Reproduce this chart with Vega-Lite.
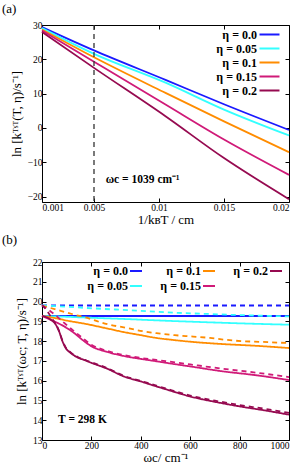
{
  "$schema": "https://vega.github.io/schema/vega-lite/v6.json",
  "padding": {"left": 1, "top": 2, "right": 4, "bottom": 2},
  "spacing": 6,
  "config": {
    "view": {"stroke": "black", "strokeWidth": 1},
    "font": "Liberation Serif",
    "axis": {
      "domain": false, "grid": false, "tickColor": "black", "tickSize": -4, "labelPadding": 4,
      "labelFont": "Liberation Serif", "labelFontSize": 9.5, "labelColor": "black",
      "titleFont": "Liberation Serif", "titleFontSize": 13, "titleFontWeight": "normal", "titleColor": "black"
    },
    "legend": {
      "title": null, "symbolType": "M-2,0H2", "symbolDash": [1, 0], "labelFont": "Liberation Serif", "labelFontSize": 12,
      "labelFontWeight": "bold", "labelColor": "black", "labelAlign": "right", "padding": 0
    }
  },
  "datasets": {
    "a": [
      {"x": 0.001, "y": 29.4, "eta": "0.0"}, {"x": 0.005, "y": 22.6, "eta": "0.0"}, {"x": 0.0105, "y": 14.0, "eta": "0.0"}, {"x": 0.015, "y": 6.9, "eta": "0.0"}, {"x": 0.02, "y": -0.6, "eta": "0.0"},
      {"x": 0.001, "y": 29.1, "eta": "0.05"}, {"x": 0.005, "y": 21.6, "eta": "0.05"}, {"x": 0.0105, "y": 13.2, "eta": "0.05"}, {"x": 0.015, "y": 5.35, "eta": "0.05"}, {"x": 0.02, "y": -2.2, "eta": "0.05"},
      {"x": 0.001, "y": 28.7, "eta": "0.1"}, {"x": 0.005, "y": 20.6, "eta": "0.1"}, {"x": 0.0105, "y": 10.2, "eta": "0.1"}, {"x": 0.015, "y": 1.9, "eta": "0.1"}, {"x": 0.02, "y": -7.1, "eta": "0.1"},
      {"x": 0.001, "y": 28.4, "eta": "0.15"}, {"x": 0.005, "y": 19.3, "eta": "0.15"}, {"x": 0.0105, "y": 6.8, "eta": "0.15"}, {"x": 0.015, "y": -3.4, "eta": "0.15"}, {"x": 0.02, "y": -13.7, "eta": "0.15"},
      {"x": 0.001, "y": 28.0, "eta": "0.2"}, {"x": 0.005, "y": 17.5, "eta": "0.2"}, {"x": 0.0105, "y": 3.4, "eta": "0.2"}, {"x": 0.015, "y": -8.8, "eta": "0.2"}, {"x": 0.02, "y": -20.8, "eta": "0.2"}
    ],
    "b": [
      {"w": 0, "y": 19.27, "eta": "0.0", "kind": "solid"}, {"w": 500, "y": 19.27, "eta": "0.0", "kind": "solid"}, {"w": 1000, "y": 19.27, "eta": "0.0", "kind": "solid"},
      {"w": 0, "y": 19.8, "eta": "0.0", "kind": "dashed"}, {"w": 500, "y": 19.8, "eta": "0.0", "kind": "dashed"}, {"w": 1000, "y": 19.8, "eta": "0.0", "kind": "dashed"},
      {"w": 0, "y": 19.27, "eta": "0.05", "kind": "solid"}, {"w": 100, "y": 19.23, "eta": "0.05", "kind": "solid"}, {"w": 200, "y": 19.18, "eta": "0.05", "kind": "solid"}, {"w": 330, "y": 19.12, "eta": "0.05", "kind": "solid"}, {"w": 500, "y": 19.03, "eta": "0.05", "kind": "solid"}, {"w": 700, "y": 18.94, "eta": "0.05", "kind": "solid"}, {"w": 850, "y": 18.88, "eta": "0.05", "kind": "solid"}, {"w": 1000, "y": 18.83, "eta": "0.05", "kind": "solid"},
      {"w": 0, "y": 19.8, "eta": "0.05", "kind": "dashed"}, {"w": 100, "y": 19.74, "eta": "0.05", "kind": "dashed"}, {"w": 175, "y": 19.68, "eta": "0.05", "kind": "dashed"}, {"w": 355, "y": 19.56, "eta": "0.05", "kind": "dashed"}, {"w": 550, "y": 19.43, "eta": "0.05", "kind": "dashed"}, {"w": 680, "y": 19.37, "eta": "0.05", "kind": "dashed"}, {"w": 815, "y": 19.31, "eta": "0.05", "kind": "dashed"}, {"w": 1000, "y": 19.25, "eta": "0.05", "kind": "dashed"},
      {"w": 0, "y": 19.27, "eta": "0.1", "kind": "solid"}, {"w": 50, "y": 19.17, "eta": "0.1", "kind": "solid"}, {"w": 100, "y": 19.04, "eta": "0.1", "kind": "solid"}, {"w": 177, "y": 18.87, "eta": "0.1", "kind": "solid"}, {"w": 260, "y": 18.65, "eta": "0.1", "kind": "solid"}, {"w": 330, "y": 18.46, "eta": "0.1", "kind": "solid"}, {"w": 400, "y": 18.3, "eta": "0.1", "kind": "solid"}, {"w": 463, "y": 18.16, "eta": "0.1", "kind": "solid"}, {"w": 530, "y": 18.06, "eta": "0.1", "kind": "solid"}, {"w": 600, "y": 17.97, "eta": "0.1", "kind": "solid"}, {"w": 733, "y": 17.85, "eta": "0.1", "kind": "solid"}, {"w": 870, "y": 17.76, "eta": "0.1", "kind": "solid"}, {"w": 1000, "y": 17.65, "eta": "0.1", "kind": "solid"},
      {"w": 0, "y": 19.8, "eta": "0.1", "kind": "dashed"}, {"w": 56, "y": 19.6, "eta": "0.1", "kind": "dashed"}, {"w": 130, "y": 19.34, "eta": "0.1", "kind": "dashed"}, {"w": 184, "y": 19.17, "eta": "0.1", "kind": "dashed"}, {"w": 245, "y": 18.92, "eta": "0.1", "kind": "dashed"}, {"w": 340, "y": 18.67, "eta": "0.1", "kind": "dashed"}, {"w": 409, "y": 18.5, "eta": "0.1", "kind": "dashed"}, {"w": 463, "y": 18.4, "eta": "0.1", "kind": "dashed"}, {"w": 537, "y": 18.3, "eta": "0.1", "kind": "dashed"}, {"w": 612, "y": 18.23, "eta": "0.1", "kind": "dashed"}, {"w": 680, "y": 18.16, "eta": "0.1", "kind": "dashed"}, {"w": 741, "y": 18.07, "eta": "0.1", "kind": "dashed"}, {"w": 808, "y": 18.0, "eta": "0.1", "kind": "dashed"}, {"w": 889, "y": 17.96, "eta": "0.1", "kind": "dashed"}, {"w": 1000, "y": 17.9, "eta": "0.1", "kind": "dashed"},
      {"w": 0, "y": 19.27, "eta": "0.15", "kind": "solid"}, {"w": 49, "y": 19.0, "eta": "0.15", "kind": "solid"}, {"w": 89, "y": 18.75, "eta": "0.15", "kind": "solid"}, {"w": 130, "y": 18.41, "eta": "0.15", "kind": "solid"}, {"w": 170, "y": 18.0, "eta": "0.15", "kind": "solid"}, {"w": 200, "y": 17.74, "eta": "0.15", "kind": "solid"}, {"w": 265, "y": 17.45, "eta": "0.15", "kind": "solid"}, {"w": 330, "y": 17.25, "eta": "0.15", "kind": "solid"}, {"w": 400, "y": 17.1, "eta": "0.15", "kind": "solid"}, {"w": 463, "y": 16.98, "eta": "0.15", "kind": "solid"}, {"w": 530, "y": 16.85, "eta": "0.15", "kind": "solid"}, {"w": 600, "y": 16.72, "eta": "0.15", "kind": "solid"}, {"w": 733, "y": 16.47, "eta": "0.15", "kind": "solid"}, {"w": 870, "y": 16.27, "eta": "0.15", "kind": "solid"}, {"w": 1000, "y": 16.03, "eta": "0.15", "kind": "solid"},
      {"w": 0, "y": 19.8, "eta": "0.15", "kind": "dashed"}, {"w": 30, "y": 19.55, "eta": "0.15", "kind": "dashed"}, {"w": 60, "y": 19.25, "eta": "0.15", "kind": "dashed"}, {"w": 90, "y": 18.92, "eta": "0.15", "kind": "dashed"}, {"w": 120, "y": 18.6, "eta": "0.15", "kind": "dashed"}, {"w": 150, "y": 18.3, "eta": "0.15", "kind": "dashed"}, {"w": 200, "y": 17.82, "eta": "0.15", "kind": "dashed"}, {"w": 265, "y": 17.5, "eta": "0.15", "kind": "dashed"}, {"w": 330, "y": 17.3, "eta": "0.15", "kind": "dashed"}, {"w": 400, "y": 17.15, "eta": "0.15", "kind": "dashed"}, {"w": 500, "y": 16.99, "eta": "0.15", "kind": "dashed"}, {"w": 600, "y": 16.82, "eta": "0.15", "kind": "dashed"}, {"w": 733, "y": 16.6, "eta": "0.15", "kind": "dashed"}, {"w": 870, "y": 16.4, "eta": "0.15", "kind": "dashed"}, {"w": 1000, "y": 16.18, "eta": "0.15", "kind": "dashed"},
      {"w": 0, "y": 19.27, "eta": "0.2", "kind": "solid"}, {"w": 35, "y": 19.09, "eta": "0.2", "kind": "solid"}, {"w": 56, "y": 18.83, "eta": "0.2", "kind": "solid"}, {"w": 69, "y": 18.5, "eta": "0.2", "kind": "solid"}, {"w": 83, "y": 17.99, "eta": "0.2", "kind": "solid"}, {"w": 96, "y": 17.65, "eta": "0.2", "kind": "solid"}, {"w": 116, "y": 17.4, "eta": "0.2", "kind": "solid"}, {"w": 143, "y": 17.18, "eta": "0.2", "kind": "solid"}, {"w": 170, "y": 17.05, "eta": "0.2", "kind": "solid"}, {"w": 200, "y": 16.9, "eta": "0.2", "kind": "solid"}, {"w": 265, "y": 16.6, "eta": "0.2", "kind": "solid"}, {"w": 330, "y": 16.22, "eta": "0.2", "kind": "solid"}, {"w": 400, "y": 15.96, "eta": "0.2", "kind": "solid"}, {"w": 463, "y": 15.71, "eta": "0.2", "kind": "solid"}, {"w": 500, "y": 15.57, "eta": "0.2", "kind": "solid"}, {"w": 600, "y": 15.2, "eta": "0.2", "kind": "solid"}, {"w": 700, "y": 14.93, "eta": "0.2", "kind": "solid"}, {"w": 800, "y": 14.7, "eta": "0.2", "kind": "solid"}, {"w": 900, "y": 14.5, "eta": "0.2", "kind": "solid"}, {"w": 1000, "y": 14.28, "eta": "0.2", "kind": "solid"},
      {"w": 0, "y": 19.82, "eta": "0.2", "kind": "dashed"}, {"w": 11, "y": 19.68, "eta": "0.2", "kind": "dashed"}, {"w": 25, "y": 19.45, "eta": "0.2", "kind": "dashed"}, {"w": 40, "y": 19.15, "eta": "0.2", "kind": "dashed"}, {"w": 56, "y": 18.85, "eta": "0.2", "kind": "dashed"}, {"w": 69, "y": 18.52, "eta": "0.2", "kind": "dashed"}, {"w": 83, "y": 18.02, "eta": "0.2", "kind": "dashed"}, {"w": 96, "y": 17.68, "eta": "0.2", "kind": "dashed"}, {"w": 116, "y": 17.43, "eta": "0.2", "kind": "dashed"}, {"w": 143, "y": 17.21, "eta": "0.2", "kind": "dashed"}, {"w": 200, "y": 16.93, "eta": "0.2", "kind": "dashed"}, {"w": 265, "y": 16.63, "eta": "0.2", "kind": "dashed"}, {"w": 330, "y": 16.25, "eta": "0.2", "kind": "dashed"}, {"w": 400, "y": 15.99, "eta": "0.2", "kind": "dashed"}, {"w": 500, "y": 15.61, "eta": "0.2", "kind": "dashed"}, {"w": 600, "y": 15.25, "eta": "0.2", "kind": "dashed"}, {"w": 700, "y": 14.99, "eta": "0.2", "kind": "dashed"}, {"w": 800, "y": 14.77, "eta": "0.2", "kind": "dashed"}, {"w": 900, "y": 14.58, "eta": "0.2", "kind": "dashed"}, {"w": 1000, "y": 14.37, "eta": "0.2", "kind": "dashed"}
    ]
  },
  "vconcat": [
    {
      "width": 247, "height": 177,
      "title": {"text": "(a)", "anchor": "start", "frame": "group", "dx": -40, "offset": 4, "fontSize": 13, "fontWeight": "normal", "font": "Liberation Serif", "color": "black"},
      "layer": [
        {
          "data": {"name": "a"},
          "mark": {"type": "line", "strokeWidth": 1.8, "interpolate": "monotone"},
          "encoding": {
            "x": {"field": "x", "type": "quantitative", "scale": {"domain": [0.001, 0.02], "nice": false, "zero": false},
                  "axis": {"orient": "bottom", "values": [0.001, 0.005, 0.01, 0.015, 0.02], "labelExpr": "datum.value + ''", "title": "1/kʙT / cm", "titlePadding": 2}},
            "y": {"field": "y", "type": "quantitative", "scale": {"domain": [-21.6, 30], "nice": false, "zero": false},
                  "axis": {"orient": "left", "values": [-20, -10, 0, 10, 20, 30], "title": "ln [kᵀˢᵀ(T, η)/s⁻¹]", "titlePadding": 4}},
            "color": {"field": "eta", "type": "nominal",
                      "scale": {"domain": ["0.0", "0.05", "0.1", "0.15", "0.2"], "range": ["#1a1aff", "#33ffff", "#ff8c00", "#d01a78", "#960a50"]},
                      "legend": {"orient": "none", "legendX": 221, "legendY": 3, "symbolSize": 100, "symbolStrokeWidth": 2.2, "symbolOffset": 0, "labelOffset": -19, "rowPadding": 1,
                                 "labelExpr": "(length(datum.label) < 4 ? '\u2007' : '') + 'η = ' + datum.label"}}
          }
        },
        {
          "data": {"values": [{"x": 0.005}]},
          "mark": {"type": "rule", "strokeDash": [5, 4], "color": "#333333", "strokeWidth": 1.3},
          "encoding": {"x": {"field": "x", "type": "quantitative", "axis": null}}
        },
        {
          "data": {"values": [{"x": 0.0059, "y": -15.2, "label": "ωc = 1039 cm⁻¹"}]},
          "mark": {"type": "text", "align": "left", "baseline": "middle", "fontWeight": "bold", "fontSize": 11.5, "font": "Liberation Serif", "color": "black"},
          "encoding": {
            "x": {"field": "x", "type": "quantitative", "axis": {"orient": "top", "labels": false, "title": null, "values": [0.001, 0.005, 0.01, 0.015, 0.02]}},
            "y": {"field": "y", "type": "quantitative", "axis": {"orient": "right", "labels": false, "title": null, "values": [-20, -10, 0, 10, 20, 30]}},
            "text": {"field": "label"}
          }
        }
      ],
      "resolve": {"axis": {"x": "independent", "y": "independent"}}
    },
    {
      "width": 247, "height": 178,
      "title": {"text": "(b)", "anchor": "start", "frame": "group", "dx": -40, "offset": 10, "fontSize": 13, "fontWeight": "normal", "font": "Liberation Serif", "color": "black"},
      "layer": [
        {
          "data": {"name": "b"},
          "mark": {"type": "line", "strokeWidth": 1.8, "interpolate": "monotone"},
          "encoding": {
            "x": {"field": "w", "type": "quantitative", "scale": {"domain": [0, 1000], "nice": false},
                  "axis": {"orient": "bottom", "values": [0, 200, 400, 600, 800, 1000], "format": "d", "title": "ωc/ cm⁻¹", "titlePadding": 2}},
            "y": {"field": "y", "type": "quantitative", "scale": {"domain": [13, 22], "nice": false, "zero": false},
                  "axis": {"orient": "left", "values": [13, 14, 15, 16, 17, 18, 19, 20, 21, 22], "title": "ln [kᵀˢᵀ(ωc; T, η)/s⁻¹]", "titlePadding": 4}},
            "color": {"field": "eta", "type": "nominal",
                      "scale": {"domain": ["0.0", "0.05", "0.1", "0.15", "0.2"], "range": ["#1a1aff", "#33ffff", "#ff8c00", "#d01a78", "#960a50"]},
                      "legend": {"orient": "none", "legendX": 88, "legendY": 3, "columns": 3, "columnPadding": 13, "symbolSize": 36, "symbolStrokeWidth": 2.2, "symbolOffset": 0, "labelOffset": -14, "rowPadding": 3,
                                 "labelExpr": "(length(datum.label) < 4 ? '\u2007' : '') + 'η = ' + datum.label"}},
            "strokeDash": {"field": "kind", "type": "nominal", "scale": {"domain": ["solid", "dashed"], "range": [[1, 0], [5, 4]]}, "legend": null}
          }
        },
        {
          "data": {"values": [{"w": 65, "y": 14, "label": "T = 298 K"}]},
          "mark": {"type": "text", "align": "left", "baseline": "middle", "fontWeight": "bold", "fontSize": 11.5, "font": "Liberation Serif", "color": "black"},
          "encoding": {
            "x": {"field": "w", "type": "quantitative", "axis": {"orient": "top", "labels": false, "title": null, "values": [0, 200, 400, 600, 800, 1000]}},
            "y": {"field": "y", "type": "quantitative", "axis": {"orient": "right", "labels": false, "title": null, "values": [13, 14, 15, 16, 17, 18, 19, 20, 21, 22]}},
            "text": {"field": "label"}
          }
        }
      ],
      "resolve": {"axis": {"x": "independent", "y": "independent"}}
    }
  ],
  "resolve": {"scale": {"color": "independent"}, "legend": {"color": "independent"}}
}
